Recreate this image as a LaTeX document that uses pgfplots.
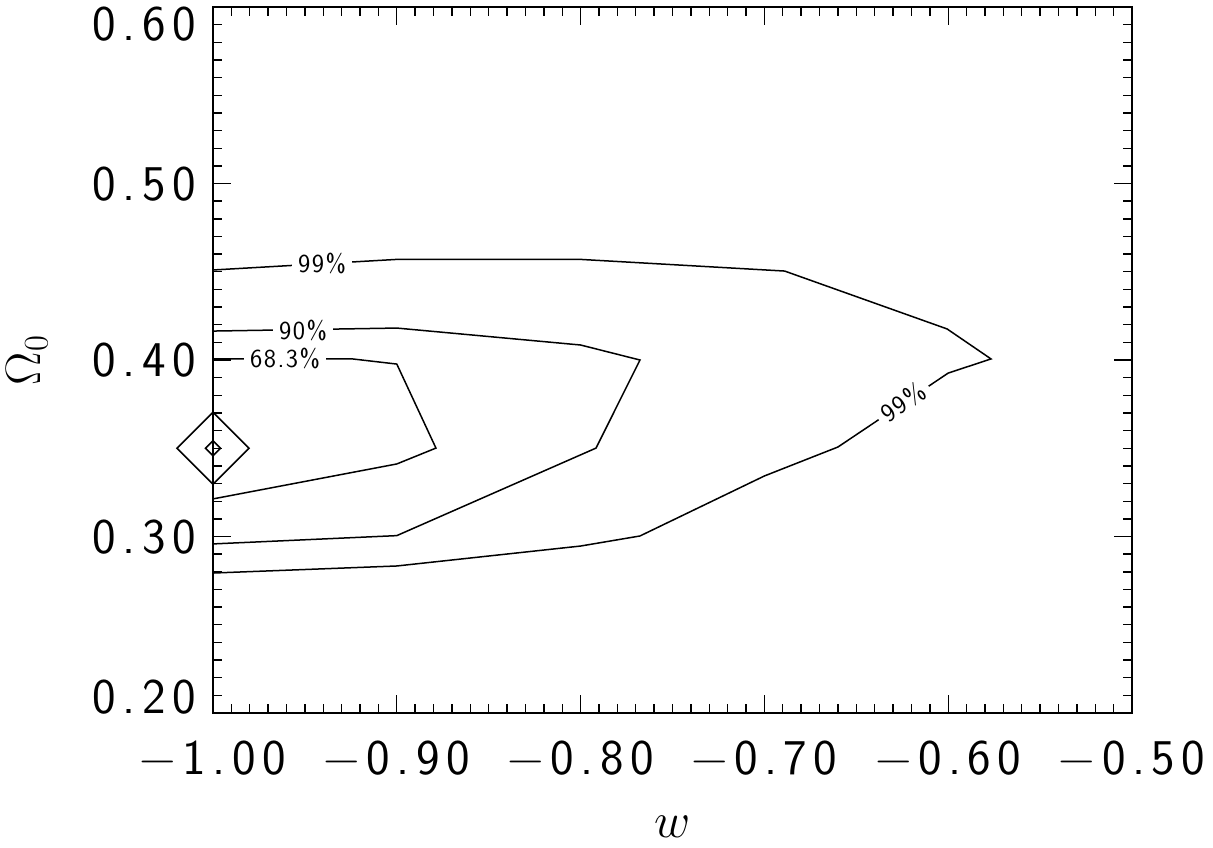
\documentclass[border=0pt]{standalone}
\usepackage{fontspec}
\usepackage{pgfplots}
\pgfplotsset{compat=1.18}
\newfontfamily\tickfont{lmsans17-regular.otf}[LetterSpace=13]
\newfontfamily\labfont{lmsans17-regular.otf}[LetterSpace=6]
\begin{document}
\begin{tikzpicture}
\begin{axis}[
  at={(0pt,0pt)}, anchor=south west,
  scale only axis, width=459.5pt, height=353pt,
  xmin=-1, xmax=-0.5, ymin=0.2, ymax=0.6,
  xtick={-1,-0.9,-0.8,-0.7,-0.6,-0.5},
  xticklabels={{−1.00},{−0.90},{−0.80},{−0.70},{−0.60},{−0.50}},
  ytick={0.2,0.3,0.4,0.5,0.6},
  yticklabels={{\raisebox{8pt}{0.20}},{0.30},{0.40},{0.50},{\raisebox{-8.5pt}{0.60}}},
  minor x tick num=9, minor y tick num=9,
  major tick length=9pt, minor tick length=4.5pt,
  every tick/.append style={black, line width=0.7pt},
  axis line style={line width=0.9pt},
  ticklabel style={font=\fontsize{25}{30}\selectfont\tickfont},
  xticklabel style={anchor=north, yshift=-10.5pt},
  yticklabel style={anchor=base east, yshift=-8.25pt, xshift=-5pt},
  clip=false,
]
% 99% contour
\addplot[black, line width=0.75pt] coordinates {
(-1.0,0.451) (-0.90,0.457) (-0.80,0.457) (-0.689,0.4504) (-0.6006,0.4176)
(-0.5767,0.4006) (-0.60,0.3926) (-0.66,0.3507) (-0.70,0.3343) (-0.7677,0.3003)
(-0.80,0.2946) (-0.90,0.2833) (-1.0,0.2793)};
% 90% contour
\addplot[black, line width=0.75pt] coordinates {
(-1.0,0.4164) (-0.90,0.4181) (-0.80,0.4085) (-0.7677,0.400) (-0.7916,0.3501)
(-0.90,0.3005) (-1.0,0.2958)};
% 68.3% contour
\addplot[black, line width=0.75pt] coordinates {
(-1.0,0.4006) (-0.924,0.4006) (-0.90,0.3977) (-0.8787,0.3501) (-0.90,0.3411) (-1.0,0.3213)};
% best fit markers
\addplot[black, line width=0.75pt, only marks, mark=square, mark size=12.73pt, mark options={rotate=45}] coordinates {(-1.0,0.35)};
\addplot[black, line width=0.75pt, only marks, mark=square, mark size=2.65pt, mark options={rotate=45}] coordinates {(-1.0,0.35)};
% contour labels
\node[fill=white, inner ysep=1pt, inner xsep=3pt, font=\fontsize{13}{15}\selectfont\labfont] at (axis cs:-0.9608,0.4006) {68.3\%};
\node[fill=white, inner ysep=1pt, inner xsep=3pt, font=\fontsize{13}{15}\selectfont\labfont] at (axis cs:-0.951,0.4166) {90\%};
\node[fill=white, inner ysep=1pt, inner xsep=3pt, font=\fontsize{13}{15}\selectfont\labfont] at (axis cs:-0.9407,0.4547) {99\%};
\node[fill=white, inner ysep=1pt, inner xsep=3pt, rotate=35, font=\fontsize{13}{15}\selectfont\labfont] at (axis cs:-0.6246,0.3762) {99\%};
% axis labels
\node[xshift=-93pt, rotate=90] at (axis description cs:0,0.5) {\fontsize{26}{30}\selectfont$\Omega_0$};
\node[yshift=-57pt] at (axis description cs:0.5,0) {\fontsize{28}{30}\selectfont$w$};
\end{axis}
\pgfresetboundingbox
\path (-106.5pt,-67pt) rectangle (500pt,356.5pt);
\end{tikzpicture}
\end{document}
